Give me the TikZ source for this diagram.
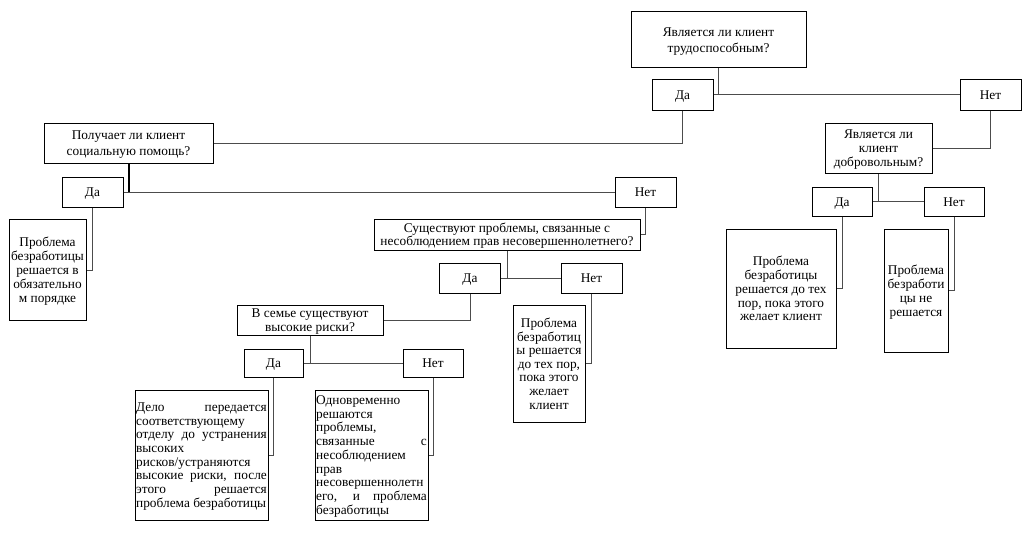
\documentclass[tikz,border=0pt]{standalone}
\usepackage{fontspec}
\setmainfont{Liberation Serif}
\newcommand{\jline}[2]{\makebox[#1][s]{#2}}

\begin{document}
\begin{tikzpicture}[x=0.75pt,y=-0.75pt,
  box/.style={draw,line width=0.75pt,align=center,inner sep=1pt,text depth=-2pt,font=\fontsize{10}{10.5}\selectfont},
  wh/.style 2 args={minimum width=#1*0.75pt,minimum height=#2*0.75pt},
  ans/.style={box,wh={61}{30},text height=9pt,text depth=2pt},
  link/.style={line width=0.75pt,draw=black!70}]
\useasboundingbox (0,0) rectangle (1035,535);
% questions
\node[box,wh={175}{56},font=\fontsize{10}{11.5}\selectfont] (q1) at (718.5,40) {Является ли клиент\\трудоспособным?};
\node[box,wh={169}{40},font=\fontsize{10}{11.5}\selectfont] (q2) at (128.5,143) {Получает ли клиент\\социальную помощь?};
\node[box,wh={107}{50}] (q3) at (878.5,148.5) {Является ли\\клиент\\добровольным?};
\node[box,wh={266}{31},font=\fontsize{10}{9.5}\selectfont] (q4) at (507,234.5) {Существуют проблемы, связанные с\\несоблюдением прав несовершеннолетнего?};
\node[box,wh={146}{30}] (q5) at (310,320) {В семье существуют\\высокие риски?};
% answers
\node[ans] (y1) at (682.5,95) {Да};
\node[ans] (n1) at (990.5,95) {Нет};
\node[ans] (y2) at (92.5,192) {Да};
\node[ans] (n2) at (645.5,192) {Нет};
\node[ans] (y3) at (470,278) {Да};
\node[ans] (n3) at (591.5,278) {Нет};
\node[ans,wh={59}{28}] (y4) at (273.5,363) {Да};
\node[ans,wh={60}{28}] (n4) at (433,363) {Нет};
\node[ans,wh={60}{29}] (y5) at (842,201.5) {Да};
\node[ans,wh={60}{29}] (n5) at (954,201.5) {Нет};
% results
\node[box,wh={77}{101}] (r1) at (47.5,270) {Проблема\\безработицы\\решается в\\обязательно\\м порядке};
\node[box,wh={72}{117},font=\fontsize{10}{10.2}\selectfont] (r2) at (549,363.5) {Проблема\\безработиц\\ы решается\\до тех пор,\\пока этого\\желает\\клиент};
\node[box,wh={133}{130},align=left,inner xsep=0.75pt,font=\fontsize{10}{10.3}\selectfont] (r3) at (201.5,455) {\jline{98pt}{Дело передается}\\соответствующему\\\jline{98pt}{отделу до устранения}\\высоких\\рисков/устраняются\\\jline{98pt}{высокие риски, после}\\\jline{98pt}{этого решается}\\проблема безработицы};
\node[box,wh={113}{130},align=left,inner xsep=0.75pt,font=\fontsize{10}{10.3}\selectfont] (r4) at (371.5,455) {Одновременно\\решаются\\проблемы,\\\jline{83pt}{связанные с}\\несоблюдением\\прав\\несовершеннолетн\\\jline{83pt}{его, и проблема}\\безработицы};
\node[box,wh={110}{119},font=\fontsize{10}{10.3}\selectfont] (r5) at (781,288.5) {Проблема\\безработицы\\решается до тех\\пор, пока этого\\желает клиент};
\node[box,wh={64}{123}] (r6) at (916,290.5) {Проблема\\безработи\\цы не\\решается};
% connectors
\foreach \q/\y/\n in {q1/y1/n1,q2/y2/n2,q4/y3/n3,q5/y4/n4,q3/y5/n5}
  \draw[link] (\q.south) -- (\q.south |- \y.east) (\y.east) -- (\n.west);
\foreach \a/\b in {y1/q2,n1/q3,y2/r1,n2/q4,y3/q5,n3/r2,y4/r3,n4/r4,y5/r5,n5/r6}
  \draw[link] (\a.south) |- (\b.east);
\draw[line width=1.5pt] (q2.south) -- (q2.south |- y2.east);
\end{tikzpicture}
\end{document}
